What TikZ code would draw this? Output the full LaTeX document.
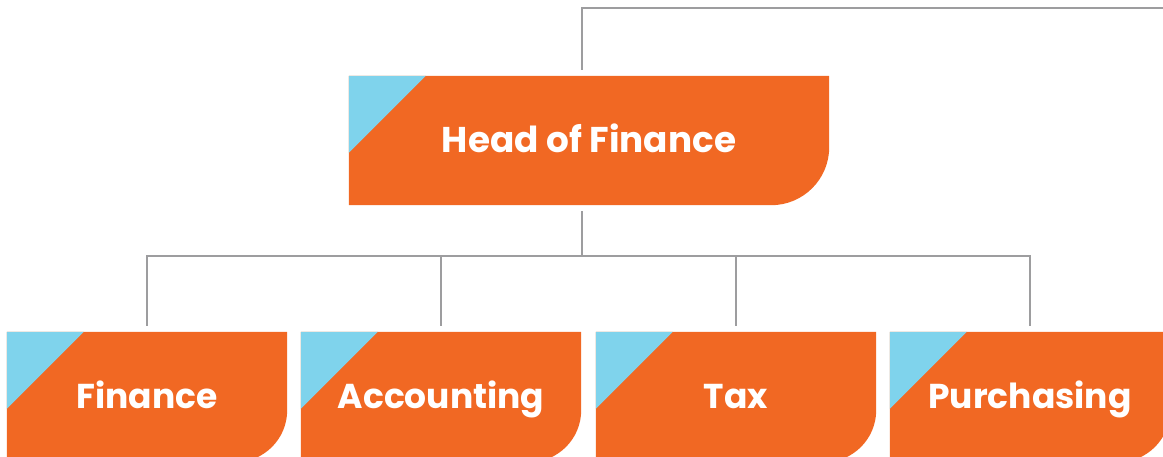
\documentclass[tikz,border=0pt]{standalone}
\usepackage{fontspec}
\setmainfont{Poppins}
\usetikzlibrary{backgrounds}
\definecolor{orgorange}{RGB}{241,104,35}
\definecolor{orgblue}{RGB}{127,211,236}
\definecolor{linegray}{RGB}{157,157,159}
\tikzset{
  orgbox/.style={text=white, font=\bfseries\fontsize{34.5}{40}\selectfont, inner sep=0pt, text height=24pt, text depth=0pt, minimum height=130pt, minimum width=280pt},
  headbox/.style={orgbox, font=\bfseries\fontsize{35.8}{40}\selectfont, text height=25pt, minimum width=480pt, minimum height=129pt},
  conn/.style={draw=linegray, line width=2.6pt, line join=miter},
}
\newcommand\boxbg[2]{%
  \fill[orgorange] (#1.north west) -- (#1.north east) -- ([yshift=#2]#1.south east)
    arc[start angle=0, end angle=-90, radius=#2] -- (#1.south west) -- cycle;
  \fill[orgblue] (#1.north west) -- ([xshift=77pt]#1.north west) -- ([yshift=-77pt]#1.north west) -- cycle;
}
\begin{document}
\begin{tikzpicture}[x=1pt,y=1pt]
\useasboundingbox (0,0) rectangle (1163,457);
\node[headbox] (head) at (589,316.5) {Head of Finance};
\node[orgbox] (fin) at (147,60) {Finance};
\node[orgbox] (acc) at (441,60) {Accounting};
\node[orgbox] (tax) at (736,60) {Tax};
\node[orgbox] (pur) at (1030,60) {Purchasing};
\coordinate (topend) at (1163,449);
\begin{scope}[on background layer]
  \boxbg{head}{58pt}
  \boxbg{fin}{52pt}
  \boxbg{acc}{52pt}
  \boxbg{tax}{52pt}
  \boxbg{pur}{52pt}
\end{scope}
\draw[conn] ([xshift=-7pt,yshift=6pt]head.north) |- (topend);
\foreach \c in {fin,acc,tax,pur}
  \draw[conn] ([xshift=-7pt,yshift=-6pt]head.south) -- ++(0,-45) -| ([yshift=6pt]\c.north);
\end{tikzpicture}
\end{document}
